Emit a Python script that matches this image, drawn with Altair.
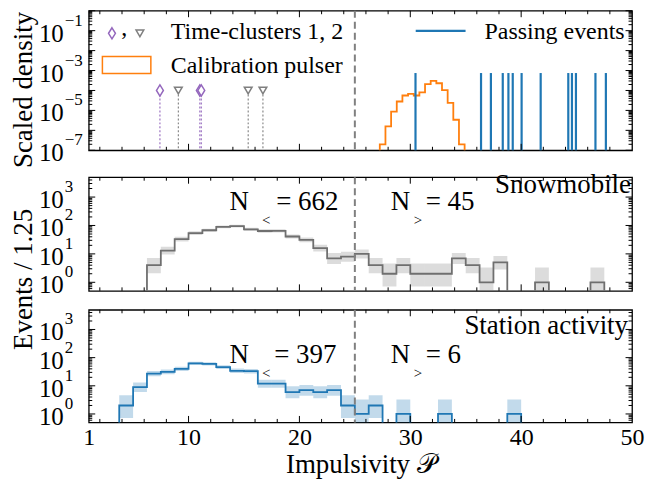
import altair as alt
import pandas as pd
import numpy as np

FONT = "Liberation Serif"

# ---------------- data ----------------
x_domain = [1, 50]
cut_value = 25

# top panel: calibration pulser histogram (scaled density)
cal_edges = [27.25, 27.76, 28.27, 28.78, 29.29, 29.80, 30.31, 30.82, 31.33,
             31.84, 32.35, 32.86, 33.37, 33.88, 34.39, 34.90]
cal_density = [2.0e-7, 1.6e-6, 8.7e-6, 2.8e-5, 5.6e-5, 6.8e-5, 5.6e-5, 8.1e-5,
               2.1e-4, 3.0e-4, 2.3e-4, 1.05e-4, 2.4e-5, 3.4e-6, 2.0e-7]
# passing events
passing_x = [30.47, 36.38, 37.27, 38.34, 38.85, 39.24, 40.04, 41.76,
             44.25, 44.58, 44.94, 46.70, 47.64]
passing_height = 7.5e-4
# time clusters
cluster1_x = [7.42, 11.02, 11.15]
cluster2_x = [9.08, 15.38, 16.71]
cluster_level = 1e-4

# middle / bottom panels: event counts per 1.25 bin
bin_width = 1.25
snow_start = 6.25
snow_counts = [4, 13, 33, 54, 68, 90, 95, 73, 64, 65, 41, 31, 16, 7, 8,
               10, 4, 2, 4, 2, 2, 2, 7, 4, 1, 5, 0, 0, 1, 0, 0, 0, 1]
station_start = 3.75
station_counts = [2, 9, 27, 31, 40, 63, 60, 46, 34, 33, 12, 12, 6, 7, 6, 7, 2,
                  1, 2, 0, 1, 0, 0, 1, 0, 0, 0, 0, 1]

# tick labels
x_ticks = [1, 10, 20, 30, 40, 50]
y1_ticks = [1e-7, 1e-5, 1e-3, 1e-1]
y1_exps = ["\u22127", "\u22125", "\u22123", "\u22121"]
y2_ticks = [1, 10, 100, 1000]
y2_exps = ["0", "1", "2", "3"]

# ---------------- helpers ----------------
W = 545
H1, H2, H3 = 140, 114, 113
C_BLUE = "#1f77b4"
C_ORANGE = "#ff7f0e"
C_GRAY = "#7f7f7f"
C_PURPLE = "#9467bd"
LEG = 24      # legend text
BIG = 27      # titles / annotations
TICKF = 25    # y tick label base
XTICKF = 24   # x tick labels
EXPF = 17     # tick label exponent

xs = alt.Scale(domain=x_domain, nice=False, zero=False)
ys1 = alt.Scale(type="log", domain=[1e-7, 1], nice=False)
ys2 = alt.Scale(type="log", domain=[0.5, 5000], nice=False)


def step_df(edges, values, floor):
    xs_, ys_ = [edges[0]], [floor]
    for i, v in enumerate(values):
        y = v if v > 0 else floor
        xs_ += [edges[i], edges[i + 1]]
        ys_ += [y, y]
    xs_.append(edges[-1])
    ys_.append(floor)
    return pd.DataFrame({"x": xs_, "y": ys_, "i": range(len(xs_))})


def garwood(n):
    lo = n * (1 - 1 / (9 * n) - 1 / (3 * np.sqrt(n))) ** 3
    hi = (n + 1) * (1 - 1 / (9 * (n + 1)) + 1 / (3 * np.sqrt(n + 1))) ** 3
    return lo, hi


def band_df(start, counts):
    rows = []
    for i, c in enumerate(counts):
        if c > 0:
            lo, hi = garwood(c)
            rows.append({"x0": start + i * bin_width, "x1": start + (i + 1) * bin_width,
                         "lo": lo, "hi": hi})
    return pd.DataFrame(rows)


def log_minor(dmin, dmax):
    vals = []
    for d in range(-9, 5):
        for k in range(2, 10):
            v = k * 10.0 ** d
            if dmin < v < dmax:
                vals.append(v)
    return vals


def text(t, x, y, size=BIG, align="left"):
    return alt.Chart(pd.DataFrame({"t": [t]})).mark_text(
        font=FONT, fontSize=size, align=align, baseline="alphabetic", color="black"
    ).encode(x=alt.value(x), y=alt.value(y), text="t:N")


class Panel:
    """Holds the shared scales and axes of one panel so every layer agrees."""

    def __init__(self, ys, xaxis, yaxis, H):
        self.ys, self.xaxis, self.yaxis, self.H = ys, xaxis, yaxis, H

    def X(self, f):
        return alt.X(f, scale=xs, axis=self.xaxis)

    def Y(self, f):
        return alt.Y(f, scale=self.ys, axis=self.yaxis)

    def cut_rule(self):
        return alt.Chart(pd.DataFrame({"v": [cut_value]})).mark_rule(
            color="#808080", strokeWidth=2, strokeDash=[7, 4]
        ).encode(x=self.X("v:Q"))

    def ylabels(self, vals, exps):
        df = pd.DataFrame({"v": vals, "b": "10", "e": exps})
        base = alt.Chart(df).mark_text(
            font=FONT, fontSize=TICKF, align="right", baseline="middle", dy=3, color="black"
        ).encode(x=alt.value(-25), y=self.Y("v:Q"), text="b:N")
        exp = alt.Chart(df).mark_text(
            font=FONT, fontSize=EXPF, align="left", baseline="middle", dy=-10, color="black"
        ).encode(x=alt.value(-24), y=self.Y("v:Q"), text="e:N")
        # invisible anchor fixing the left extent of the layout
        anchor = alt.Chart(pd.DataFrame({"a": [0]})).mark_rule(
            color="white", strokeWidth=1
        ).encode(x=alt.value(-79), y=alt.value(40), y2=alt.value(41))
        return [base, exp, anchor]

    def ticks(self, y_major, y_minor, L1=6.5, L2=3.5):
        H = self.H
        x_major = [10, 20, 30, 40]
        x_minor = [v for v in range(2, 50, 2) if v not in x_major]
        out = []
        for vals, L in [(x_major, L1), (x_minor, L2)]:
            base = alt.Chart(pd.DataFrame({"v": vals})).mark_rule(color="black", strokeWidth=1)
            out.append(base.encode(x=self.X("v:Q"), y=alt.value(H), y2=alt.value(H - L)))
            out.append(base.encode(x=self.X("v:Q"), y=alt.value(0), y2=alt.value(L)))
        for vals, L in [(y_major, L1), (y_minor, L2)]:
            base = alt.Chart(pd.DataFrame({"v": vals})).mark_rule(color="black", strokeWidth=1)
            out.append(base.encode(y=self.Y("v:Q"), x=alt.value(0), x2=alt.value(L)))
            out.append(base.encode(y=self.Y("v:Q"), x=alt.value(W), x2=alt.value(W - L)))
        return out


def yaxis(title, title_y):
    if title is None:
        return alt.Axis(labels=False, ticks=False, domain=False, grid=False, title=None)
    return alt.Axis(labels=False, ticks=False, domain=False, grid=False,
                    title=title, titleFontSize=BIG, titleX=-65, titleY=title_y,
                    titleAngle=270, titleAlign="center", titleBaseline="middle")


# ---------------- panel 1 ----------------
P1 = Panel(ys1, None, yaxis("Scaled density", 79), H1)

cal_line = alt.Chart(step_df(cal_edges, cal_density, 1e-9)).mark_line(
    color=C_ORANGE, strokeWidth=1.8, clip=True
).encode(x=P1.X("x:Q"), y=P1.Y("y:Q"), order="i:Q")

passing = alt.Chart(pd.DataFrame({"x": passing_x, "h": passing_height})).mark_rule(
    color=C_BLUE, strokeWidth=2.2
).encode(x=P1.X("x:Q"), y=P1.Y("h:Q"), y2=alt.value(H1))

DIAMOND = "M0,-1L0.62,0L0,1L-0.62,0Z"
D_SIZE, T_SIZE = 125, 60
cl_layers = []
for xv, col, shape, size in [(cluster1_x, C_PURPLE, DIAMOND, D_SIZE),
                             (cluster2_x, C_GRAY, "triangle-down", T_SIZE)]:
    df = pd.DataFrame({"x": xv, "h": cluster_level})
    cl_layers.append(alt.Chart(df).mark_rule(color=col, strokeWidth=1.1, strokeDash=[2, 2]).encode(
        x=P1.X("x:Q"), y=P1.Y("h:Q"), y2=alt.value(H1)))
    cl_layers.append(alt.Chart(df).mark_point(
        shape=shape, size=size, filled=True, fill="white", stroke=col, strokeWidth=1.5, opacity=1
    ).encode(x=P1.X("x:Q"), y=P1.Y("h:Q")))

leg = [
    alt.Chart(pd.DataFrame({"a": [0]})).mark_point(
        shape=DIAMOND, size=D_SIZE, filled=True, fill="white", stroke=C_PURPLE, strokeWidth=1.5, opacity=1
    ).encode(x=alt.value(23.3), y=alt.value(22.7)),
    text(",", 35.7, 24, size=LEG, align="center"),
    alt.Chart(pd.DataFrame({"a": [0]})).mark_point(
        shape="triangle-down", size=T_SIZE, filled=True, fill="white", stroke=C_GRAY, strokeWidth=1.5, opacity=1
    ).encode(x=alt.value(51.3), y=alt.value(22.7)),
    text("Time-clusters 1, 2", 82.3, 28.7, size=LEG),
    alt.Chart(pd.DataFrame({"a": [0]})).mark_rect(
        fill="white", stroke=C_ORANGE, strokeWidth=1.5
    ).encode(x=alt.value(13.7), x2=alt.value(62.3), y=alt.value(46), y2=alt.value(63)),
    text("Calibration pulser", 82.3, 62.7, size=LEG),
    alt.Chart(pd.DataFrame({"a": [0]})).mark_rule(color=C_BLUE, strokeWidth=2.2).encode(
        x=alt.value(328), x2=alt.value(378), y=alt.value(20.3)),
    text("Passing events", 397, 28, size=LEG),
]

p1 = alt.layer(
    cal_line, P1.cut_rule(), passing, *cl_layers, *leg,
    *P1.ylabels(y1_ticks, y1_exps),
    *P1.ticks([10.0 ** d for d in range(-7, 1)], log_minor(1e-7, 1)),
).properties(width=W, height=H1)


# ---------------- panels 2 & 3 ----------------
def hist_panel(P, start, counts, line_col, band_col, annots):
    edges = [start + i * bin_width for i in range(len(counts) + 1)]
    band = alt.Chart(band_df(start, counts)).mark_rect(
        color=band_col, opacity=0.27, clip=True
    ).encode(x=P.X("x0:Q"), x2="x1:Q", y=P.Y("lo:Q"), y2="hi:Q")
    line = alt.Chart(step_df(edges, counts, 0.05)).mark_line(
        color=line_col, strokeWidth=1.8, clip=True
    ).encode(x=P.X("x:Q"), y=P.Y("y:Q"), order="i:Q")
    return alt.layer(
        band, line, P.cut_rule(), *annots,
        *P.ylabels(y2_ticks, y2_exps),
        *P.ticks(y2_ticks, log_minor(0.5, 5000)),
    ).properties(width=W, height=P.H)


xaxis3 = alt.Axis(values=x_ticks, format="d", ticks=False, domain=False, grid=False,
                  labelFontSize=XTICKF, labelPadding=3, labelFlush=False, labelOverlap=False,
                  title="Impulsivity \U0001d4ab", titleFontSize=BIG, titleY=50,
                  titleBaseline="alphabetic")

annots2 = [
    text("Snowmobile", W - 1, 16, align="right"),
    text("N", 141.3, 33), text("<", 178, 48, size=15, align="center"), text("= 662", 188, 33),
    text("N", 303, 33), text(">", 330.3, 48, size=15, align="center"), text("= 45", 338, 33),
]
annots3 = [
    text("Station activity", W - 4, 24.3, align="right"),
    text("N", 141.3, 53.3), text("<", 178, 68.3, size=15, align="center"), text("= 397", 186, 53.3),
    text("N", 303, 53.3), text(">", 330.3, 68.3, size=15, align="center"), text("= 6", 338, 53.3),
]

P2 = Panel(ys2, None, yaxis("Events / 1.25", 102), H2)
P3 = Panel(ys2, xaxis3, yaxis(None, 0), H3)
p2 = hist_panel(P2, snow_start, snow_counts, "#6f6f6f", C_GRAY, annots2)
p3 = hist_panel(P3, station_start, station_counts, C_BLUE, C_BLUE, annots3)

chart = alt.vconcat(
    p1, alt.vconcat(p2, p3, spacing=19, bounds="flush"), spacing=27, bounds="flush"
).properties(
    padding={"left": 0, "top": 0, "right": 0, "bottom": 0}
).configure_view(
    stroke="black", strokeWidth=1.3
).configure_axis(
    labelFont=FONT, titleFont=FONT, labelColor="black", titleColor="black",
    titleFontWeight="normal"
)

chart.save("out.html", embed_options={"renderer": "svg", "actions": False})
